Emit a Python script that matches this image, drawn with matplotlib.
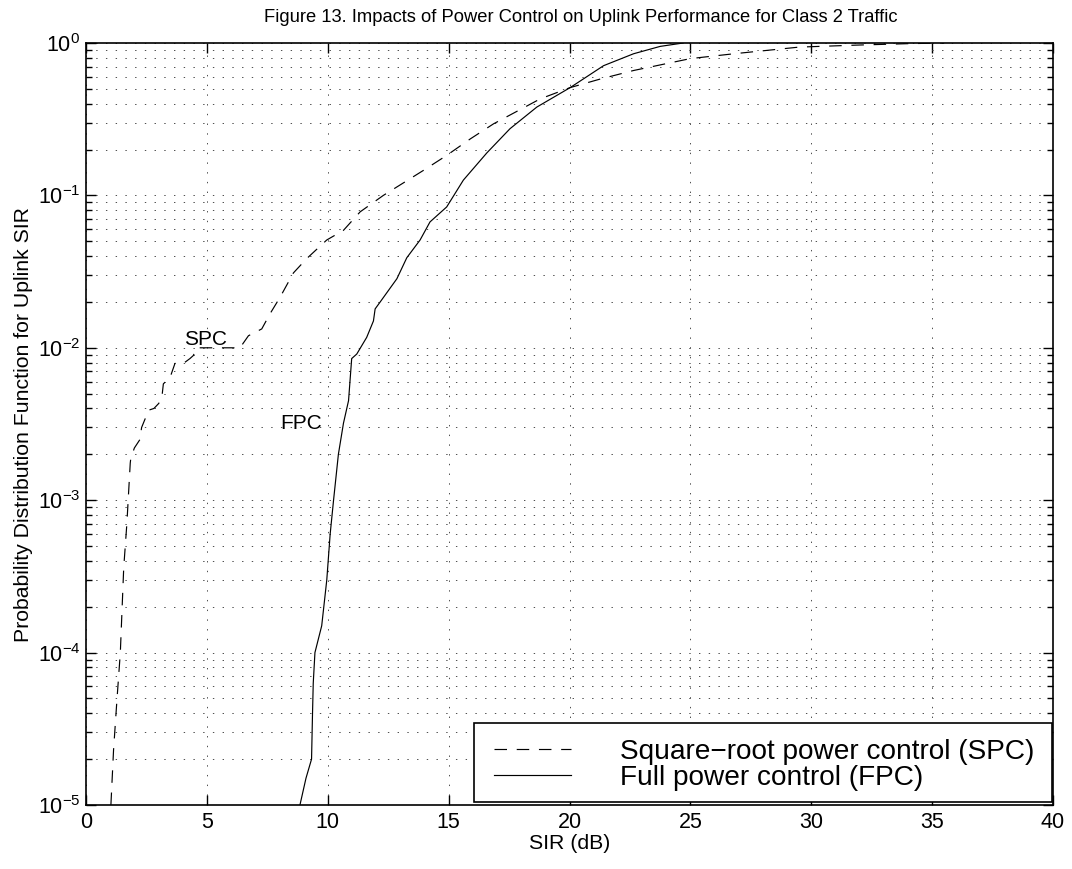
# Uplink SIR distribution, square-root vs full power control (class 2 traffic)
import matplotlib
matplotlib.use('Agg')
import matplotlib.pyplot as plt
from matplotlib.patches import Rectangle
import numpy as np

plt.rcParams['font.family'] = ['Liberation Sans', 'DejaVu Sans']
plt.rcParams['mathtext.fontset'] = 'custom'
plt.rcParams['mathtext.rm'] = 'Liberation Sans'
plt.rcParams['lines.scale_dashes'] = False

# square-root power control (SPC)
spc_sir = [1.03, 1.14, 1.28, 1.42, 1.56, 1.69, 1.83, 1.85, 2.0, 2.23, 2.3, 2.44,
           2.6, 2.81, 3.0, 3.13, 3.2, 3.48, 3.68, 4.03, 4.3, 4.44, 4.58, 6.37,
           6.72, 7.27, 7.61, 8.03, 8.58, 9.13, 9.96, 10.65, 11.34, 12.3, 13.96,
           14.92, 15.9, 16.86, 18.79, 20.03, 21.27, 22.65, 25.0, 26.8, 29.5,
           32.0, 34.0, 35.5]
spc_pdf = [1e-5, 2.3e-5, 4.9e-5, 1e-4, 3.6e-4, 7e-4, 1.75e-3, 1.87e-3, 2.2e-3,
           2.5e-3, 3.0e-3, 3.4e-3, 3.9e-3, 4.0e-3, 4.3e-3, 4.6e-3, 5.8e-3,
           6.4e-3, 7.9e-3, 7.9e-3, 8.5e-3, 8.9e-3, 1e-2, 1e-2, 1.2e-2, 1.33e-2,
           1.67e-2, 2.15e-2, 3.1e-2, 3.85e-2, 5.1e-2, 5.9e-2, 7.8e-2, 0.1,
           0.146, 0.183, 0.235, 0.295, 0.43, 0.51, 0.58, 0.66, 0.79, 0.85,
           0.94, 0.97, 0.99, 1.0]

# full power control (FPC)
fpc_sir = [8.85, 9.1, 9.33, 9.37, 9.4, 9.47, 9.75, 9.96, 10.1, 10.24, 10.44,
           10.65, 10.86, 10.99, 11.2, 11.61, 11.89, 11.96, 12.17, 12.86, 13.27,
           13.82, 14.23, 14.92, 15.61, 16.58, 17.54, 18.65, 20.03, 21.41, 22.65,
           23.75, 24.7]
fpc_pdf = [1e-5, 1.5e-5, 2.0e-5, 4e-5, 6.3e-5, 1e-4, 1.5e-4, 3e-4, 6e-4, 1e-3,
           2.0e-3, 3.2e-3, 4.5e-3, 8.5e-3, 9.1e-3, 1.17e-2, 1.5e-2, 1.8e-2,
           2.0e-2, 2.84e-2, 3.9e-2, 5.1e-2, 6.7e-2, 8.4e-2, 0.126, 0.19, 0.274,
           0.38, 0.51, 0.71, 0.85, 0.95, 1.0]

xticks = [0, 5, 10, 15, 20, 25, 30, 35, 40]

fig = plt.figure(figsize=(10.72, 8.69), dpi=100)
ax = fig.add_axes([86/1072, 1 - 805/869, 967/1072, 762/869])

ax.semilogy(spc_sir, spc_pdf, color='k', lw=0.85, ls=(0, (9, 7)),
            label='Square\u2212root power control (SPC)')
ax.semilogy(fpc_sir, fpc_pdf, color='k', lw=0.85, ls='-',
            label='Full power control (FPC)')

ax.set_xlim(0, 40)
ax.set_ylim(1e-5, 1)
ax.set_xticks(xticks)
ax.minorticks_on()
ax.xaxis.set_minor_locator(matplotlib.ticker.NullLocator())

ax.grid(which='major', color='0.3', ls=(0, (1, 6)), lw=0.7)
ax.grid(which='minor', axis='y', color='0.3', ls=(0, (1, 6)), lw=0.7)

ax.tick_params(which='both', direction='in', top=True, right=True,
               labelsize=15.5, width=1)
ax.tick_params(which='major', length=7)
ax.tick_params(which='minor', length=4)
ax.tick_params(axis='x', pad=5)
ax.tick_params(axis='y', pad=4)
for s in ax.spines.values():
    s.set_linewidth(1.2)

ax.set_xlabel('SIR (dB)', fontsize=15.3, labelpad=1)
ax.set_ylabel('Probability Distribution Function for Uplink SIR', fontsize=15.3,
              labelpad=3)
ax.set_title('Figure 13. Impacts of Power Control on Uplink Performance for Class 2 Traffic',
             fontsize=13.2, pad=15, x=0.512)

ax.text(4.95, 1.05e-2, 'SPC', fontsize=15, ha='center', va='baseline')
ax.text(8.9, 2.93e-3, 'FPC', fontsize=15, ha='center', va='baseline')

# legend box drawn on its own so the frame can sit where the original has it
ax.add_patch(Rectangle((388/967, 3/762), 578/967, 79/762, transform=ax.transAxes,
                       facecolor='white', edgecolor='k', lw=1.2, zorder=4.5))
leg = ax.legend(loc='upper left', bbox_to_anchor=(388/967, 86/762),
                borderaxespad=0, fontsize=20.2, handlelength=2.75,
                handletextpad=1.75, labelspacing=0.0, borderpad=0.71,
                frameon=False)

fig.savefig('out.png', dpi=100)
